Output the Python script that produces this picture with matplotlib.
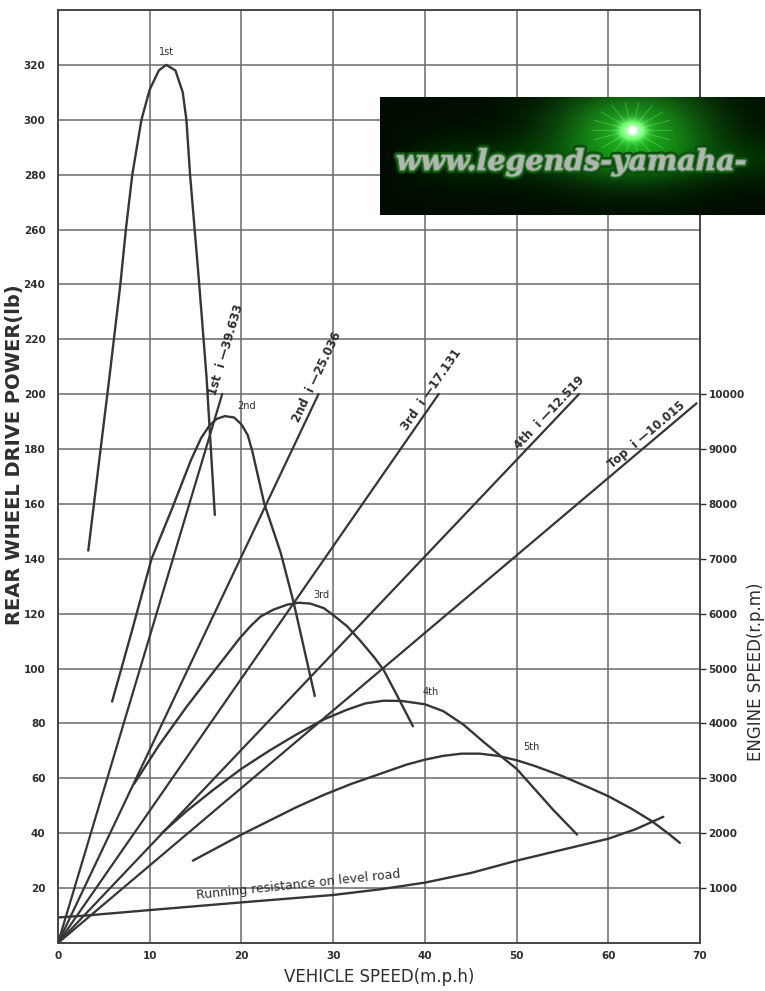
import numpy as np
import matplotlib
matplotlib.use('Agg')
import matplotlib.pyplot as plt
import matplotlib.patheffects as pe

# ---- data (speed in mph, drive force in lb) ----
first_x = [3.3, 4.5, 5.6, 6.8, 7.4, 8.1, 9.1, 10.0, 11.0, 11.8, 12.8, 13.6, 14.0, 14.4, 14.9, 15.4, 16.2, 17.1]
first_y = [143, 176, 206, 240, 260, 280, 300, 311, 318, 320, 318, 310, 300, 280, 260, 240, 206, 156]

second_x = [5.9, 8.0, 10.2, 12.4, 14.5, 15.6, 16.5, 17.3, 18.2, 19.2, 20.0, 20.7, 21.2, 22.5, 24.3, 25.7, 28.0]
second_y = [88, 113, 140, 158, 176, 184, 188.5, 191, 192, 191.5, 189, 185, 179, 160, 142, 124, 90]

third_x = [8.3, 11.0, 14.0, 17.0, 19.8, 21.0, 22.1, 23.5, 25.0, 26.2, 27.5, 29.0, 30.0, 31.5, 33.0, 34.5, 35.5, 37.0, 38.7]
third_y = [58, 72, 86, 99, 111, 115.5, 119, 121.5, 123.3, 124, 123.7, 122, 119.5, 115.5, 110, 104, 99.5, 90, 79]

fourth_x = [11.3, 14, 17, 20, 23, 26, 29, 31.5, 33.5, 35.5, 37.5, 40.0, 42.0, 44.2, 46.5, 48.5, 50.0, 52.0, 54.0, 56.6]
fourth_y = [40, 48, 56, 63.5, 70, 76, 81.5, 85, 87.3, 88.3, 88.2, 87, 84.5, 79.6, 73, 67.5, 63.5, 56, 48.5, 39.5]

fifth_x = [14.7, 17.5, 20, 23, 26, 29, 32, 35, 38, 40, 42, 44, 46, 48, 50, 52, 55, 58, 60, 62.5, 64.7, 66.5, 67.8]
fifth_y = [30, 35, 39.5, 44.5, 49.5, 54, 58, 61.5, 65, 66.8, 68.2, 69, 69, 68.2, 66.6, 64.5, 60.8, 56.5, 53.5, 49, 44.5, 40, 36.5]

run_x = [0, 3, 10, 20, 30, 35, 40, 45, 50, 55, 60, 63, 66]
run_y = [9.3, 10, 12, 14.8, 17.5, 19.5, 22, 25.5, 30, 34, 38, 41.5, 46]

# engine speed lines: from origin to end point (mph, rpm)
gear_names = ['1st', '2nd', '3rd', '4th', 'Top']
gear_ratios = ['39.633', '25.036', '17.131', '12.519', '10.015']
eng_end_speed = [17.9, 28.4, 41.5, 56.8, 69.6]
eng_end_rpm = [10000, 10000, 10000, 10000, 9830]

x_ticks = [0, 10, 20, 30, 40, 50, 60, 70]
y_ticks = [20, 40, 60, 80, 100, 120, 140, 160, 180, 200, 220, 240, 260, 280, 300, 320]
rpm_ticks = [1000, 2000, 3000, 4000, 5000, 6000, 7000, 8000, 9000, 10000]

LINE = '#363636'
GRID = '#6a6a6a'
TXT = '#2e2e2e'

fig = plt.figure(figsize=(7.65, 9.91), dpi=100)
ax = fig.add_axes([58/765, 48/991, 642/765, 933/991])
ax.set_xlim(0, 70)
ax.set_ylim(0, 340)
ax.set_xticks(x_ticks)
ax.set_yticks(y_ticks)
ax.grid(True, color=GRID, lw=1.1)
ax.tick_params(axis='both', length=0, labelsize=7.5, colors=TXT)
ax.tick_params(axis='y', pad=9)
ax.tick_params(axis='x', pad=6)
for lab in ax.get_xticklabels() + ax.get_yticklabels():
    lab.set_fontweight('bold')
for s in ax.spines.values():
    s.set_color('#444444')
    s.set_linewidth(1.4)

ax2 = ax.twinx()
ax2.set_ylim(0, 340 * 50)
ax2.set_yticks(rpm_ticks)
ax2.tick_params(axis='y', length=4, width=1, labelsize=7.5, pad=2, colors=TXT)
for lab in ax2.get_yticklabels():
    lab.set_fontweight('bold')
for s in ax2.spines.values():
    s.set_visible(False)

# drive force curves
for xs, ys in [(first_x, first_y), (second_x, second_y), (third_x, third_y),
               (fourth_x, fourth_y), (fifth_x, fifth_y), (run_x, run_y)]:
    ax.plot(xs, ys, color=LINE, lw=1.7, solid_capstyle='round')

# engine speed lines
for xe, re in zip(eng_end_speed, eng_end_rpm):
    ax2.plot([0, xe], [0, re], color=LINE, lw=1.6)

# curve labels
ax.text(11.8, 323, '1st', fontsize=7, ha='center', va='bottom', color=TXT)
ax.text(20.6, 194, '2nd', fontsize=7, ha='center', va='bottom', color=TXT)
ax.text(28.7, 125, '3rd', fontsize=7, ha='center', va='bottom', color=TXT)
ax.text(40.6, 89.5, '4th', fontsize=7, ha='center', va='bottom', color=TXT)
ax.text(51.6, 69.5, '5th', fontsize=7, ha='center', va='bottom', color=TXT)

ax.text(15.1, 16.2, 'Running resistance on level road', fontsize=9, rotation=6,
        rotation_mode='anchor', ha='left', va='baseline', color=TXT)

# gear ratio labels along engine speed lines
label_start = [199, 189, 186, 179, 172]
for name, ratio, xe, re, ls in zip(gear_names, gear_ratios, eng_end_speed, eng_end_rpm, label_start):
    p0 = ax2.transData.transform((0, 0))
    p1 = ax2.transData.transform((xe, re))
    ang = np.degrees(np.arctan2(p1[1] - p0[1], p1[0] - p0[0]))
    xl = xe * (ls * 50) / re - 0.3
    ax.text(xl, ls, name + '  i \u2014' + ratio, fontsize=8.5, fontweight='bold',
            rotation=ang, rotation_mode='anchor', ha='left', va='bottom', color=TXT)

ax.set_xlabel('VEHICLE SPEED(m.p.h)', fontsize=12, labelpad=5, color=TXT)
fig.text(15/765, 1 - 455/991, 'REAR WHEEL DRIVE POWER(lb)', rotation=90, fontsize=14,
         fontweight='bold', ha='center', va='center', color=TXT)
fig.text(756/765, 1 - 672/991, 'ENGINE SPEED(r.p.m)', rotation=90, fontsize=12,
         ha='center', va='center', color=TXT)

# banner overlay in the top right corner
wax = fig.add_axes([380/765, 1 - 215/991, 385/765, 118/991], zorder=10)
h, w = 118, 385
yy, xx = np.mgrid[0:h, 0:w]
glow = np.exp(-(((xx - 252) / 75.0) ** 2 + ((yy - 33) / 45.0) ** 2))
core = np.exp(-(((xx - 252) / 12.0) ** 2 + ((yy - 33) / 9.0) ** 2))
band = np.exp(-((yy - 62) / 22.0) ** 2) * np.clip((xx - 10) / 60.0, 0, 1)
img = np.zeros((h, w, 3))
img[..., 0] = 0.0 + 0.12 * glow + 0.8 * core
img[..., 1] = 0.05 + 0.6 * glow + 0.9 * core + 0.12 * band
img[..., 2] = 0.0 + 0.12 * glow + 0.8 * core
wax.imshow(np.clip(img, 0, 1), extent=(0, w, h, 0), aspect='auto')
for a in np.linspace(0, np.pi, 9, endpoint=False):
    wax.plot([252 - 40 * np.cos(a), 252 + 40 * np.cos(a)],
             [33 - 28 * np.sin(a), 33 + 28 * np.sin(a)], color='#8dff8d', lw=0.5, alpha=0.45)
wax.scatter([252], [33], s=28, color='white', zorder=5)
wax.text(16, 73, 'www.legends-yamaha-', fontsize=20.5, family='DejaVu Serif', style='italic',
         fontweight='bold', color='#b4b4b4', ha='left', va='baseline',
         path_effects=[pe.withStroke(linewidth=5, foreground='#0f4a10'),
                       pe.withStroke(linewidth=2, foreground='#3c8f3c'), pe.Normal()])
wax.set_xlim(0, w)
wax.set_ylim(h, 0)
wax.axis('off')

fig.savefig('out.png', dpi=100)
